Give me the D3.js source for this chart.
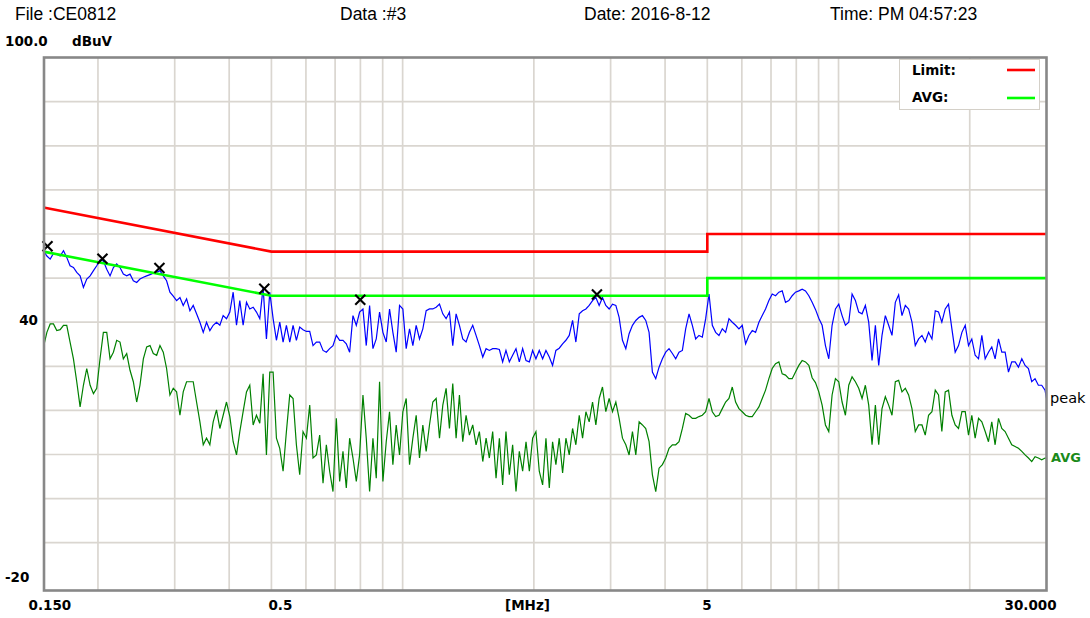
<!DOCTYPE html>
<html><head><meta charset="utf-8">
<script src="https://cdn.jsdelivr.net/npm/d3@7/dist/d3.min.js"></script>
<style>body{margin:0;background:#fff}svg{display:block}</style>
</head><body><svg id="c" width="1090" height="618"></svg>
<script>
// ---- data (MHz / dBuV) ----
const freqMHz=[
0.1500,0.1527,0.1554,0.1581,0.1609,0.1638,0.1667,0.1696,0.1726,0.1757,
0.1788,0.1820,0.1852,0.1885,0.1919,0.1953,0.1987,0.2022,0.2058,0.2095,
0.2132,0.2170,0.2208,0.2247,0.2287,0.2328,0.2369,0.2411,0.2454,0.2497,
0.2542,0.2587,0.2633,0.2679,0.2727,0.2775,0.2824,0.2874,0.2925,0.2977,
0.3030,0.3084,0.3138,0.3194,0.3251,0.3308,0.3367,0.3427,0.3488,0.3549,
0.3612,0.3676,0.3741,0.3808,0.3875,0.3944,0.4014,0.4085,0.4158,0.4231,
0.4306,0.4383,0.4460,0.4540,0.4620,0.4702,0.4785,0.4870,0.4957,0.5045,
0.5134,0.5225,0.5318,0.5412,0.5508,0.5606,0.5705,0.5806,0.5909,0.6014,
0.6121,0.6229,0.6340,0.6452,0.6567,0.6683,0.6801,0.6922,0.7045,0.7170,
0.7297,0.7426,0.7558,0.7692,0.7829,0.7967,0.8109,0.8252,0.8399,0.8548,
0.8699,0.8853,0.9010,0.9170,0.9332,0.9498,0.9666,0.9838,1.0012,1.0190,
1.0371,1.0555,1.0742,1.0932,1.1126,1.1324,1.1524,1.1729,1.1937,1.2149,
1.2364,1.2582,1.2805,1.3032,1.3264,1.3499,1.3738,1.3982,1.4230,1.4482,
1.4739,
1.500,1.527,1.554,1.581,1.609,1.638,1.667,1.696,1.726,1.757,
1.788,1.820,1.852,1.885,1.919,1.953,1.987,2.022,2.058,2.095,
2.132,2.170,2.208,2.247,2.287,2.328,2.369,2.411,2.454,2.497,
2.542,2.587,2.633,2.679,2.727,2.775,2.824,2.874,2.925,2.977,
3.030,3.084,3.138,3.194,3.251,3.308,3.367,3.427,3.488,3.549,
3.612,3.676,3.741,3.808,3.875,3.944,4.014,4.085,4.158,4.231,
4.306,4.383,4.460,4.540,4.620,4.702,4.785,4.870,4.957,5.045,
5.134,5.225,5.318,5.412,5.508,5.606,5.705,5.806,5.909,6.014,
6.121,6.229,6.340,6.452,6.567,6.683,6.801,6.922,7.045,7.170,
7.297,7.426,7.558,7.692,7.829,7.967,8.109,8.252,8.399,8.548,
8.699,8.853,9.010,9.170,9.332,9.498,9.666,9.838,10.012,10.190,
10.371,10.555,10.742,10.932,11.126,11.324,11.524,11.729,11.937,12.149,
12.364,12.582,12.805,13.032,13.264,13.499,13.738,13.982,14.230,14.482,
14.739,
15.00,15.27,15.54,15.81,16.09,16.38,16.67,16.96,17.26,17.57,
17.88,18.20,18.52,18.85,19.19,19.53,19.87,20.22,20.58,20.95,
21.32,21.70,22.08,22.47,22.87,23.28,23.69,24.11,24.54,24.97,
25.42,25.87,26.33,26.79,27.27,27.75,28.24,28.74,29.25,29.77,
30.00];

const peakDb=[
56.2,55.0,54.3,55.6,55.4,55.0,56.2,54.7,52.8,52.4,
51.3,50.5,47.9,49.8,50.5,51.7,52.8,54.1,53.9,52.0,
50.5,52.4,53.2,52.4,50.9,50.5,50.9,49.4,49.0,49.8,
50.2,50.5,50.8,51.1,51.3,51.7,50.5,49.4,46.8,45.9,
44.9,45.6,43.8,45.3,42.6,43.8,41.9,40.0,37.7,40.0,
38.1,39.3,40.0,39.3,41.5,40.8,42.3,46.8,39.3,44.9,
39.3,44.5,43.0,43.4,42.3,40.8,47.9,36.2,46.8,40.8,
35.9,40.0,35.5,39.3,35.5,
39.3,35.9,38.9,38.3,37.9,37.9,34.7,35.5,35.5,33.6,
33.2,34.0,34.7,37.0,35.9,35.9,35.1,33.2,41.5,39.3,
42.3,43.0,34.7,43.8,34.0,36.2,42.3,37.7,35.5,43.0,
37.7,33.2,43.8,43.0,34.0,38.5,34.7,39.3,36.2,38.5,
42.6,43.0,43.0,43.4,44.1,41.9,40.8,42.3,34.7,41.9,
39.3,36.2,35.5,37.7,39.3,37.0,34.7,32.1,34.0,33.6,
34.0,34.0,33.8,31.0,33.6,31.0,32.5,34.0,31.0,34.0,
31.3,31.0,33.6,31.7,33.6,
31.7,33.6,32.1,30.2,33.6,34.1,35.1,35.9,37.0,40.4,
35.5,41.9,42.6,43.0,43.8,44.9,45.6,43.8,45.6,43.8,
43.0,44.1,43.8,41.1,35.9,34.0,37.4,39.3,40.4,41.1,
41.5,40.4,37.7,28.7,27.2,29.8,31.7,33.2,34.0,32.9,
31.7,33.2,33.6,38.5,41.9,39.3,36.2,37.0,36.6,40.8,
46.4,39.3,37.7,37.0,38.5,37.7,40.8,40.0,39.3,38.5,
39.3,35.1,37.0,38.1,37.7,40.0,41.5,43.0,44.9,46.4,
46.0,46.8,47.1,44.5,44.9,
46.0,46.8,47.1,47.5,47.1,46.0,44.5,42.9,40.9,39.3,
34.7,31.7,39.3,43.0,44.1,41.5,39.3,40.0,46.4,44.9,
42.3,41.9,43.8,40.0,31.3,39.3,30.2,37.0,41.5,39.3,
37.0,44.5,46.2,41.5,43.8,43.0,40.0,34.7,36.2,37.0,
35.5,37.7,36.2,42.6,42.3,40.0,43.0,44.1,38.5,33.2,
34.7,37.7,39.3,34.7,36.2,32.5,31.7,37.0,31.7,33.2,
34.4,31.7,36.2,33.2,33.2,28.7,31.0,31.0,29.8,31.7,
30.2,29.5,26.5,27.2,25.7,25.7,24.6,22.7];

const avgDb=[
34.4,37.7,39.6,39.6,38.1,38.3,39.3,39.3,35.5,31.7,
26.5,20.8,25.7,29.5,25.7,23.8,25.0,31.7,37.7,37.7,
31.7,33.2,35.9,35.5,31.7,32.9,29.1,26.5,21.9,25.7,
31.7,34.4,34.7,32.9,32.5,34.7,33.2,29.5,23.5,25.0,
24.2,18.9,24.2,26.5,26.5,26.5,21.9,17.4,12.2,13.7,
12.2,17.4,20.1,15.9,18.9,21.9,18.6,12.9,9.9,15.2,
19.7,24.2,25.7,16.7,18.9,17.1,28.3,9.9,28.7,28.7,
13.7,11.4,6.2,15.2,23.5,
22.7,12.2,5.4,15.2,13.7,21.2,9.2,9.9,14.4,3.5,
12.2,6.2,1.6,18.2,3.9,10.7,2.4,13.7,9.2,3.9,
9.9,23.5,13.7,1.6,13.7,4.6,26.5,3.9,12.9,19.7,
7.7,16.7,9.9,19.7,22.7,7.7,13.7,18.9,9.2,16.7,
10.7,16.7,21.9,22.7,13.7,21.2,25.0,15.9,26.1,13.7,
23.5,12.9,18.9,14.4,16.7,12.2,15.2,8.4,13.7,9.2,
15.2,4.6,13.7,3.1,15.2,5.4,12.2,1.6,10.7,6.2,
12.9,6.2,13.7,15.2,6.2,
3.1,13.7,2.4,12.9,7.7,13.7,5.8,13.7,9.9,15.9,
12.2,18.9,13.7,19.7,17.4,21.9,16.7,22.7,25.3,19.7,
22.7,19.7,21.9,18.2,13.7,12.2,9.9,15.2,9.9,17.4,
16.7,15.9,12.9,5.4,1.6,6.9,7.7,9.2,11.4,12.2,
12.2,12.9,15.9,19.3,18.9,18.2,18.2,18.6,18.9,19.7,
22.7,19.7,18.6,18.9,20.4,21.9,22.7,25.3,21.9,20.4,
19.7,18.9,18.6,18.6,19.7,20.8,22.7,24.6,27.2,29.5,
30.6,31.0,28.3,28.0,27.2,
27.2,28.7,30.2,31.3,31.0,30.2,27.4,26.3,24.2,21.2,
16.7,15.2,23.5,27.2,26.5,21.9,18.9,25.7,27.6,26.5,
25.0,22.7,25.7,21.2,12.2,21.2,12.2,20.4,23.1,21.2,
18.9,26.5,26.8,24.2,25.0,23.5,20.4,15.2,16.7,16.7,
14.4,18.9,19.7,24.6,23.5,15.2,24.2,24.6,18.9,16.7,
15.9,19.7,19.7,14.4,18.9,13.7,18.2,17.4,15.2,12.9,
17.4,12.2,18.2,15.9,15.2,13.7,12.2,11.8,11.4,10.7,
9.9,9.2,8.4,9.5,9.2,8.8,9.2,9.2];

const limitFreq=[0.15,0.5,5,5,30];
const limitQP=[66,56,56,60,60];
const limitAvg=[56,46,46,50,50];

const markerFreq=[0.1532,0.2048,0.2767,0.4815,0.7994,2.791];
const markerDb=[57.2,54.4,52.3,47.6,45.1,46.3];

const gridFreq=[0.2,0.3,0.4,0.5,0.6,0.7,0.8,0.9,1,2,3,4,5,6,7,8,9,10,20];
const gridDb=[-10,0,10,20,30,40,50,60,70,80,90];

const header=["File :CE0812","Data :#3","Date: 2016-8-12","Time: PM 04:57:23"];
const xTickFreq=[0.15,0.5,5,30];
const xTickText=["0.150","0.5","5","30.000"];
const yTickDb=[100,40,-20];
const yTickText=["100.0","40","-20"];
const yUnit="dBuV", xUnit="[MHz]";
const legendNames=["Limit:","AVG:"];

// ---- drawing ----
const svg=d3.select("#c");
const x=d3.scaleLog().domain([0.15,30]).range([43.5,1046.5]);
const y=d3.scaleLinear().domain([-20,100]).range([586.8,57.6]);
const F="'DejaVu Sans',Verdana,sans-serif";

svg.append("rect").attr("width",1090).attr("height",618).attr("fill","#fff");

// grid
const g=svg.append("g");
g.selectAll(".vg").data(gridFreq).join("line")
 .attr("x1",d=>x(d)).attr("x2",d=>x(d)).attr("y1",57).attr("y2",590)
 .attr("stroke","#dad6d0").attr("stroke-width",1.7);
g.selectAll(".hg").data(gridDb).join("line")
 .attr("y1",d=>y(d)).attr("y2",d=>y(d)).attr("x1",44).attr("x2",1046)
 .attr("stroke","#dad6d0").attr("stroke-width",1.7);

const line=d3.line().x(d=>x(d[0])).y(d=>y(d[1]));
const avgPts=freqMHz.map((f,i)=>[f,avgDb[i]]);
const peakPts=freqMHz.map((f,i)=>[f,peakDb[i]]);

svg.append("path").attr("d",line(avgPts)).attr("fill","none")
 .attr("stroke","#008000").attr("stroke-width",1.2);
svg.append("path").attr("d",line(peakPts)).attr("fill","none")
 .attr("stroke","#0000ff").attr("stroke-width",1.2);

svg.append("path").attr("d",line(limitFreq.map((f,i)=>[f,limitQP[i]])))
 .attr("fill","none").attr("stroke","#ff0000").attr("stroke-width",2.6);
svg.append("path").attr("d",line(limitFreq.map((f,i)=>[f,limitAvg[i]])))
 .attr("fill","none").attr("stroke","#00ff00").attr("stroke-width",2.6);

// markers
const mk=svg.append("g").attr("stroke","#000").attr("stroke-width",2.1);
markerFreq.forEach((f,i)=>{
  const cx=x(f), cy=y(markerDb[i]);
  mk.append("line").attr("x1",cx-5).attr("y1",cy-5).attr("x2",cx+5).attr("y2",cy+5);
  mk.append("line").attr("x1",cx-5).attr("y1",cy+5).attr("x2",cx+5).attr("y2",cy-5);
});

// frame
svg.append("rect").attr("x",44).attr("y",57.5).attr("width",1002.5).attr("height",533)
 .attr("fill","none").attr("stroke","#888888").attr("stroke-width",2.6);

// legend
const lg=svg.append("g");
lg.append("rect").attr("x",899.5).attr("y",59.5).attr("width",140).attr("height",50)
 .attr("fill","#fff").attr("stroke","#d4d0c8").attr("stroke-width",1);
const legCol=["#ff0000","#00ff00"];
legendNames.forEach((n,i)=>{
  const yy=[75,102][i], ly=[70,98][i];
  lg.append("text").attr("x",912).attr("y",yy).text(n)
    .attr("font-family",F).attr("font-weight","bold").attr("font-size",13.5).attr("fill","#000");
  lg.append("line").attr("x1",1007).attr("x2",1035).attr("y1",ly).attr("y2",ly)
    .attr("stroke",legCol[i]).attr("stroke-width",2.6);
});

// header
const hx=[15,340,584,830];
header.forEach((t,i)=>svg.append("text").attr("x",hx[i]).attr("y",20).text(t)
  .attr("font-family","'Liberation Sans',Arial,sans-serif").attr("font-size",17.5).attr("fill","#000"));

// axis labels
const bold=s=>s.attr("font-family",F).attr("font-weight","bold").attr("font-size",13.5).attr("fill","#000");
const yPos=[[5,46,"start"],[38,324.5,"end"],[5,582,"start"]];
yTickDb.forEach((d,i)=>bold(svg.append("text").attr("x",yPos[i][0]).attr("y",yPos[i][1])
  .attr("text-anchor",yPos[i][2]).text(yTickText[i])));
bold(svg.append("text").attr("x",72).attr("y",46).text(yUnit));
const xOff=[-15,-3,-5,-42];
xTickFreq.forEach((f,i)=>bold(svg.append("text").attr("x",x(f)+xOff[i]).attr("y",610).text(xTickText[i])));
bold(svg.append("text").attr("x",505).attr("y",610).text(xUnit));

// trace names
svg.append("text").attr("x",1050).attr("y",403).text("peak")
 .attr("font-family",F).attr("font-size",14.5).attr("fill","#000");
svg.append("text").attr("x",1051).attr("y",461.5).text("AVG")
 .attr("font-family",F).attr("font-weight","bold").attr("font-size",13).attr("fill","#1a8a1a");
</script></body></html>
